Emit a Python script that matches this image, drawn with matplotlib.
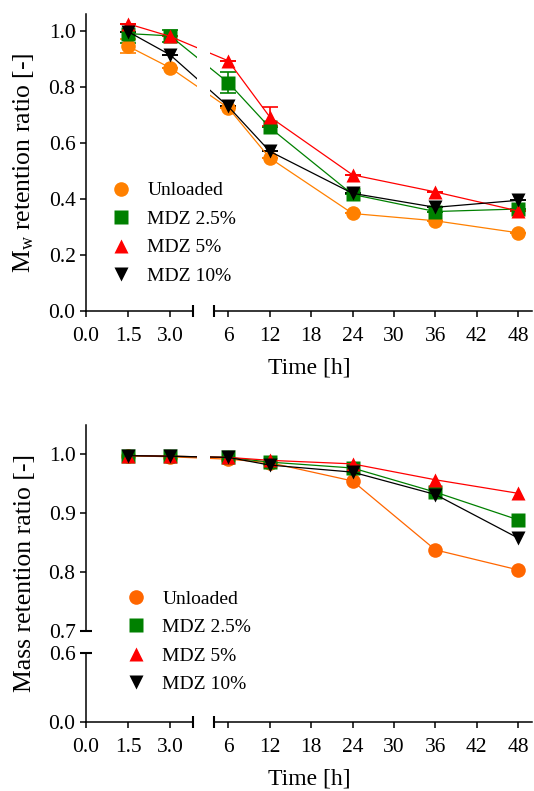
import numpy as np
import matplotlib
matplotlib.use("Agg")
import matplotlib.pyplot as plt
from matplotlib.lines import Line2D

plt.rcParams['font.family'] = ['Liberation Serif', 'DejaVu Serif']
plt.rcParams['mathtext.fontset'] = 'custom'
plt.rcParams['mathtext.rm'] = 'Liberation Serif'
plt.rcParams['mathtext.it'] = 'Liberation Serif:italic'

# data
time = [1.5, 3, 6, 12, 24, 36, 48]
labels = ['Unloaded', 'MDZ 2.5%', 'MDZ 5%', 'MDZ 10%']

mw_unloaded = [0.945, 0.868, 0.725, 0.546, 0.348, 0.322, 0.279]
mw_mdz25 = [0.99, 0.982, 0.815, 0.655, 0.416, 0.355, 0.364]
mw_mdz5 = [1.025, 0.98, 0.893, 0.693, 0.486, 0.425, 0.357]
mw_mdz10 = [0.997, 0.914, 0.73, 0.57, 0.42, 0.37, 0.395]

mw_err_unloaded = [0.025, 0, 0, 0, 0, 0, 0]
mw_err_mdz25 = [0.035, 0.022, 0.037, 0, 0, 0, 0]
mw_err_mdz5 = [0, 0, 0, 0.034, 0, 0, 0]
mw_err_mdz10 = [0, 0, 0, 0, 0, 0, 0]

mass_unloaded = [0.998, 0.996, 0.992, 0.986, 0.955, 0.838, 0.804]
mass_mdz25 = [0.998, 0.997, 0.995, 0.987, 0.977, 0.936, 0.889]
mass_mdz5 = [0.998, 0.997, 0.995, 0.990, 0.984, 0.957, 0.934]
mass_mdz10 = [0.998, 0.997, 0.995, 0.982, 0.970, 0.932, 0.858]

xticks = [0, 1.5, 3, 6, 12, 18, 24, 30, 36, 42, 48]
xticklabels = ['0.0', '1.5', '3.0', '6', '12', '18', '24', '30', '36', '42', '48']
yticks_top = [0, 0.2, 0.4, 0.6, 0.8, 1.0]
yticks_bot = [0, 0.6, 0.7, 0.8, 0.9, 1.0]

markers = ['o', 's', '^', 'v']
colors_top = ['#ff8000', 'green', 'red', 'black']
colors_bot = ['#ff6600', 'green', 'red', 'black']

# piecewise scales (pixel-ish units) for the broken axes
x_br = [-10, 0, 3.8, 4, 50, 100]
x_px = [-280, 0, 106.4, 128.2, 445.1, 789.6]
y_br = [-1, 0, 0.6, 0.7, 1.05, 2]
y_px = [-115, 0, 69, 91, 297.5, 858]


def fwd_x(v): return np.interp(v, x_br, x_px)
def inv_x(v): return np.interp(v, x_px, x_br)
def fwd_y(v): return np.interp(v, y_br, y_px)
def inv_y(v): return np.interp(v, y_px, y_br)


fig = plt.figure(figsize=(5.34, 7.91), dpi=100)
ax1 = fig.add_axes([86/534, 1-311/791, 446/534, 297/791])
ax2 = fig.add_axes([86/534, 1-722/791, 446/534, 297/791])

ms = 10.5
for ax in (ax1, ax2):
    ax.set_xscale('function', functions=(fwd_x, inv_x))
    ax.set_xlim(0, 50)
    ax.set_xticks(xticks, xticklabels)
    ax.spines[['top', 'right', 'bottom']].set_visible(False)
    ax.tick_params(direction='out', length=4.5, width=1.1, labelsize=15.5)
    ax.tick_params(axis='x', pad=7)
    ax.tick_params(axis='y', pad=3)
    ax.spines['left'].set_linewidth(1.1)
    # gap in the lines between the two x segments
    ax.axvspan(3.842, 3.961, color='white', zorder=2.3, lw=0)
    xt = ax.get_xaxis_transform()
    ax.plot([0, 3.8], [0, 0], color='black', lw=1.1, transform=xt, clip_on=False, zorder=3)
    ax.plot([4, 50], [0, 0], color='black', lw=1.1, transform=xt, clip_on=False, zorder=3)
    ax.plot([3.8, 4], [0, 0], ls='none', marker='|', ms=8, mew=1.5, color='black',
            transform=xt, clip_on=False, zorder=3)
    ax.set_xlabel('Time [h]', fontsize=17)
    ax.xaxis.set_label_coords(0.5, -0.155)

# top panel: Mw retention
mw = [mw_unloaded, mw_mdz25, mw_mdz5, mw_mdz10]
mw_err = [mw_err_unloaded, mw_err_mdz25, mw_err_mdz5, mw_err_mdz10]
for vals, err, m, c in zip(mw, mw_err, markers, colors_top):
    ax1.errorbar(time, vals, yerr=err, marker=m, color=c, ms=ms, lw=0.9,
                 capsize=5.5, elinewidth=1.2, capthick=1.2, mec='none')
ax1.set_ylim(0, 1.06)
ax1.set_yticks(yticks_top, ['%.1f' % v for v in yticks_top])
ax1.set_ylabel(r'M$_{\mathrm{w}}$ retention ratio [-]', fontsize=18.5)
ax1.yaxis.set_label_coords(-0.112, 0.5)
h1 = [Line2D([], [], marker=m, color=c, ls='none', ms=ms, mec='none')
      for m, c in zip(markers, colors_top)]
ax1.legend(h1, labels, loc='upper left', bbox_to_anchor=(0.0567, 0.435), frameon=False,
           fontsize=14, handlelength=1.0, handletextpad=0.85, labelspacing=0.56,
           borderpad=0, borderaxespad=0)

# bottom panel: mass retention
mass = [mass_unloaded, mass_mdz25, mass_mdz5, mass_mdz10]
for vals, m, c in zip(mass, markers, colors_bot):
    ax2.plot(time, vals, marker=m, color=c, ms=ms, lw=0.9, mec='none')
ax2.set_yscale('function', functions=(fwd_y, inv_y))
ax2.set_ylim(0, 1.05)
ax2.set_yticks(yticks_bot, ['%.1f' % v for v in yticks_bot])
ax2.spines['left'].set_visible(False)
yt = ax2.get_yaxis_transform()
ax2.plot([0, 0], [0, 0.6], color='black', lw=1.1, transform=yt, clip_on=False, zorder=3)
ax2.plot([0, 0], [0.7, 1.05], color='black', lw=1.1, transform=yt, clip_on=False, zorder=3)
ax2.plot([0, 0], [0.6, 0.7], ls='none', marker='_', ms=8, mew=1.5, color='black',
         transform=yt, clip_on=False, zorder=3)
ax2.set_ylabel('Mass retention ratio [-]', fontsize=18.5)
ax2.yaxis.set_label_coords(-0.112, 0.5)
h2 = [Line2D([], [], marker=m, color=c, ls='none', ms=ms, mec='none')
      for m, c in zip(markers, colors_bot)]
ax2.legend(h2, labels, loc='upper left', bbox_to_anchor=(0.0904, 0.4445), frameon=False,
           fontsize=14, handlelength=1.0, handletextpad=0.85, labelspacing=0.56,
           borderpad=0, borderaxespad=0)

fig.savefig('out.png', dpi=100)
